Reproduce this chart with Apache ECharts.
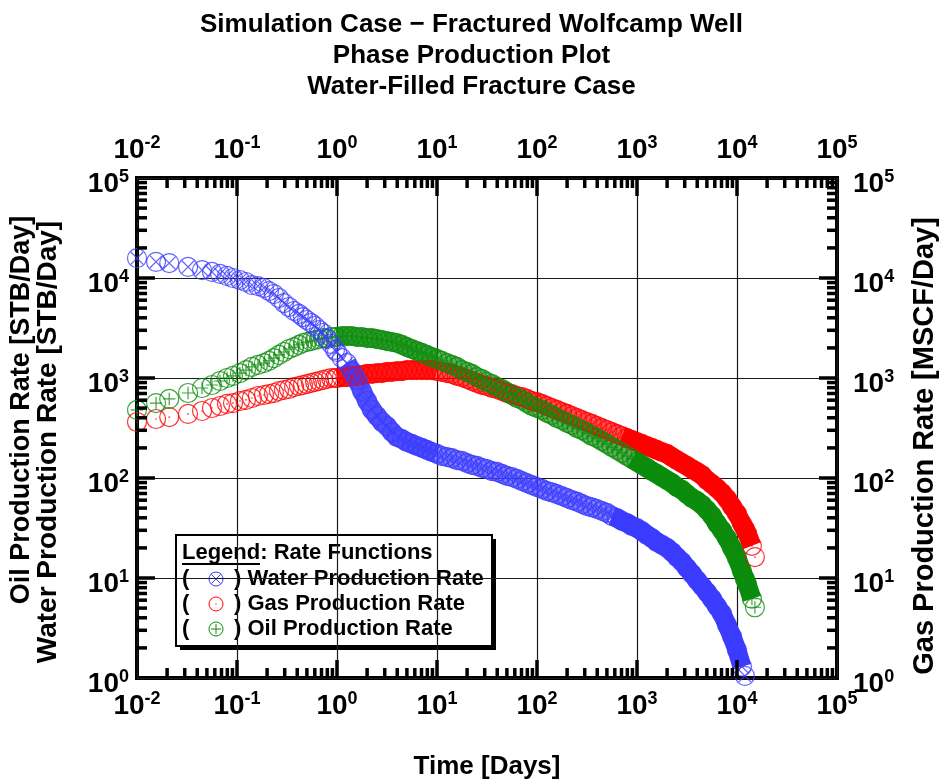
<!DOCTYPE html>
<html>
<head>
<meta charset="utf-8">
<title>Phase Production Plot</title>
<script src="https://cdn.jsdelivr.net/npm/echarts@6/dist/echarts.min.js"></script>
<style>
  html, body { margin: 0; padding: 0; background: #fff; }
  #chart { width: 943px; height: 782px; }
</style>
</head>
<body>
<div id="chart"></div>
<script>
// ---- Simulation output: time [days] and phase rates ----
const days = [
  0.01, 0.0155, 0.021, 0.0324, 0.0447, 0.0562, 0.0676, 0.0794, 0.0912, 0.107,
  0.123, 0.141, 0.162, 0.186, 0.209, 0.234, 0.263, 0.295, 0.331, 0.372,
  0.417, 0.457, 0.501, 0.55, 0.603, 0.661, 0.724, 0.794, 0.871, 0.955,
  1, 1.12, 1.26, 1.41, 1.58, 1.78, 2.0, 2.24, 2.51, 2.82, 3.16, 3.55, 3.98, 4.47, 5.01, 5.62, 6.31, 7.08, 7.94, 8.91,
  10, 11.2, 12.6, 14.1, 15.8, 17.8, 20, 22.4, 25.1, 28.2, 31.6, 35.5, 39.8, 44.7, 50.1, 56.2, 63.1, 70.8, 79.4, 89.1,
  100, 112, 126, 141, 158, 178, 200, 224, 251, 282, 316, 355, 398, 447, 501, 562, 631, 708, 794, 891,
  1000, 1120, 1260, 1410, 1580, 1780, 2000, 2240, 2510, 2820, 3160, 3550, 3980, 4470, 5010, 5620, 6310, 7080, 7940, 8910,
  10000, 11200, 12000, 12600, 14100, 15100
];

// Water production rate [STB/Day]
const waterRate = [
  15800, 14500, 14100, 12900, 12000, 11500, 11000, 10500, 10000, 9550,
  9120, 8510, 8300, 7940, 7410, 6920, 6310, 5620, 5130, 4680,
  4370, 4070, 3800, 3550, 3310, 3020, 2820, 2450, 2190, 1910,
  1820, 1580, 1410, 1170, 955, 741, 589, 479, 417, 363, 331, 288, 257, 245, 229, 219, 209, 200, 191, 182,
  174, 166, 162, 158, 151, 148, 141, 135, 132, 126, 123, 117, 115, 110, 105, 102, 98, 93, 89, 85,
  81, 78, 74, 72, 69, 66, 63, 60, 58, 55, 52.5, 51, 49, 46.8, 44.7, 41.7, 39.8, 37.2, 35.5, 33.1,
  31.6, 29.5, 26.9, 25.1, 22.9, 21.4, 20.0, 18.2, 16.2, 14.5, 12.6, 11.0, 9.5, 8.3, 7.2, 6.2, 5.2, 4.4, 3.4, 2.6,
  1.9, 1.3, 1.05, null, null, null
];

// Gas production rate [MSCF/Day]
const gasRate = [
  363, 389, 407, 437, 468, 501, 525, 550, 562, 589,
  603, 631, 661, 676, 692, 708, 741, 759, 776, 813,
  832, 851, 871, 891, 912, 933, 955, 977, 1000, 1000,
  1000, 1020, 1020, 1050, 1050, 1070, 1100, 1100, 1120, 1120, 1150, 1150, 1170, 1170, 1200, 1200, 1200, 1200, 1200, 1200,
  1170, 1150, 1120, 1100, 1050, 1020, 977, 933, 891, 851, 832, 794, 776, 741, 708, 692, 661, 646, 617, 589,
  575, 550, 525, 501, 479, 457, 437, 417, 398, 380, 363, 347, 331, 316, 302, 288, 275, 263, 251, 240,
  229, 219, 209, 200, 191, 182, 174, 162, 151, 141, 132, 123, 115, 107, 95, 87, 79, 71, 62, 52,
  44, 35, 31, 28, 21, 16.2
];

// Oil production rate [STB/Day]
const oilRate = [
  479, 562, 617, 708, 794, 851, 933, 1000, 1050, 1120,
  1200, 1290, 1350, 1410, 1480, 1580, 1700, 1820, 1950, 2040,
  2140, 2240, 2290, 2340, 2400, 2450, 2510, 2510, 2570, 2570,
  2570, 2630, 2630, 2630, 2570, 2570, 2510, 2510, 2450, 2400, 2340, 2290, 2240, 2140, 2040, 1950, 1860, 1780, 1700, 1620,
  1550, 1480, 1410, 1350, 1290, 1200, 1150, 1100, 1020, 977, 912, 871, 813, 776, 724, 676, 631, 603, 562, 525,
  501, 479, 447, 427, 398, 380, 355, 339, 316, 302, 282, 263, 251, 234, 219, 204, 191, 178, 166, 155,
  145, 135, 126, 117, 110, 102, 95, 89, 81, 76, 69, 63, 59, 54, 48, 42, 35, 30, 25, 20,
  15.8, 11.7, 9.8, 8.7, 6.2, 5.1
];

// Decade exponents used for the tick labels
const xExponents = ['-2', '-1', '0', '1', '2', '3', '4', '5'];
const yExponents = ['0', '1', '2', '3', '4', '5'];

// ---- Styling ----
const FONT = '"Liberation Sans", Arial, Helvetica, sans-serif';
const X_MIN = 0.01, X_MAX = 100000, Y_MIN = 1, Y_MAX = 100000;
const COLORS = { water: '#3c3cff', gas: '#ff0000', oil: '#0c8c0c' };
const MARK = 19;

const RING = 'M0,-10A10,10,0,1,1,0,10A10,10,0,1,1,0,-10Z';
const SYMBOLS = {
  water: 'path://' + RING + 'M-6.5,-6.5L6.5,6.5M6.5,-6.5L-6.5,6.5',
  gas: 'path://' + RING + 'M-1,0L1,0',
  oil: 'path://' + RING + 'M-6.5,0L6.5,0M0,-6.5L0,6.5'
};

function pairs(rates) {
  const out = [];
  rates.forEach((r, i) => { if (r != null) out.push([days[i], r]); });
  return out;
}
function between(rates, t0, t1) {
  return pairs(rates).filter(p => p[0] >= t0 && p[0] <= t1);
}

// Overlapping markers merge into a band: lighter where steps are sparse, solid late in time
function bandSeries(rates, color, ranges) {
  return ranges.map(([t0, t1, op]) => ({
    type: 'line',
    data: between(rates, t0, t1),
    showSymbol: false,
    silent: true,
    animation: false,
    z: 2,
    lineStyle: { color: color, width: MARK, opacity: op, cap: 'butt', join: 'round' }
  }));
}
function markerSeries(name, rates, key) {
  return {
    type: 'scatter',
    name: name,
    data: pairs(rates),
    symbol: SYMBOLS[key],
    symbolSize: MARK,
    symbolKeepAspect: true,
    silent: true,
    animation: false,
    z: 3,
    itemStyle: { color: 'rgba(0,0,0,0)', borderColor: COLORS[key], borderWidth: 1.2 }
  };
}

// Minor (2..9) and major (decade) tick values
function logTicks(lo, hi) {
  const t = [];
  for (let k = lo; k < hi; k++) {
    for (let m = 1; m <= 9; m++) t.push([m * Math.pow(10, k), m === 1 ? 1 : 0]);
  }
  return t;
}
const xTicks = logTicks(-2, 5).filter(t => t[0] > X_MIN * 1.01);
const yTicks = logTicks(0, 5).filter(t => t[0] > Y_MIN * 1.01);

const TICK_W = 3.5, MINOR_LEN = 10, MAJOR_LEN = 18;

const xTickSeries = {
  type: 'custom',
  silent: true,
  animation: false,
  z: 5,
  data: xTicks.map(t => [t[0], Y_MIN, t[1]]),
  encode: { x: 0, y: 1 },
  renderItem(params, api) {
    const v = api.value(0);
    const len = api.value(2) ? MAJOR_LEN : MINOR_LEN;
    const b = api.coord([v, Y_MIN]);
    const t = api.coord([v, Y_MAX]);
    return {
      type: 'group',
      children: [
        { type: 'rect', shape: { x: b[0] - TICK_W / 2, y: b[1] - len, width: TICK_W, height: len }, style: { fill: '#000' } },
        { type: 'rect', shape: { x: t[0] - TICK_W / 2, y: t[1], width: TICK_W, height: len }, style: { fill: '#000' } }
      ]
    };
  }
};
const yTickSeries = {
  type: 'custom',
  silent: true,
  animation: false,
  z: 5,
  data: yTicks.map(t => [X_MIN, t[0], t[1]]),
  encode: { x: 0, y: 1 },
  renderItem(params, api) {
    const v = api.value(1);
    const len = api.value(2) ? MAJOR_LEN : MINOR_LEN;
    const l = api.coord([X_MIN, v]);
    const r = api.coord([X_MAX, v]);
    return {
      type: 'group',
      children: [
        { type: 'rect', shape: { x: l[0], y: l[1] - TICK_W / 2, width: len, height: TICK_W }, style: { fill: '#000' } },
        { type: 'rect', shape: { x: r[0] - len, y: r[1] - TICK_W / 2, width: len, height: TICK_W }, style: { fill: '#000' } }
      ]
    };
  }
};

function powerLabel(exps, lo) {
  return function (v) {
    const e = Math.round(Math.log10(v));
    return '{b|10}{s|' + exps[e - lo] + '}';
  };
}
const labelRich = {
  b: { fontFamily: FONT, fontWeight: 'bold', fontSize: 28, color: '#000', lineHeight: 32 },
  s: { fontFamily: FONT, fontWeight: 'bold', fontSize: 18, color: '#000', verticalAlign: 'top', lineHeight: 18 }
};
const axisTitle = { fontFamily: FONT, fontWeight: 'bold', fontSize: 26, color: '#000' };

function logAxis(base) {
  return Object.assign({
    type: 'log',
    logBase: 10,
    axisLine: { show: false },
    axisTick: { show: false },
    minorTick: { show: false },
    splitLine: { show: false }
  }, base);
}

// Vertical axis titles (read bottom to top)
function sideTitle(text, x, y, size) {
  return {
    type: 'text', x: x, y: y, rotation: Math.PI / 2, z: 100,
    style: { text: text, font: 'bold ' + size + 'px ' + FONT, fill: '#000', align: 'center', verticalAlign: 'middle' }
  };
}

const LEG_FONT = 'bold 22px ' + FONT;

const option = {
  backgroundColor: '#fff',
  animation: false,
  title: {
    text: 'Simulation Case \u2212 Fractured Wolfcamp Well\nPhase Production Plot\nWater-Filled Fracture Case',
    left: 'center',
    top: 4,
    textStyle: { fontFamily: FONT, fontWeight: 'bold', fontSize: 26, lineHeight: 31, color: '#000' }
  },
  grid: {
    left: 137, right: 106, top: 178, bottom: 104,
    outerBoundsMode: 'none',
    containLabel: false,
    show: true, borderColor: '#000', borderWidth: 4, backgroundColor: '#fff'
  },
  xAxis: [
    logAxis({
      min: X_MIN, max: X_MAX, position: 'bottom', splitNumber: 7,
      splitLine: { show: true, lineStyle: { color: '#1a1a1a', width: 1.2 } },
      axisLabel: { formatter: powerLabel(xExponents, -2), rich: labelRich, margin: 12, showMinLabel: true, showMaxLabel: true },
      name: 'Time [Days]', nameLocation: 'middle', nameGap: 76, nameTextStyle: axisTitle
    }),
    logAxis({
      min: X_MIN, max: X_MAX, position: 'top', splitNumber: 7,
      axisLabel: { formatter: powerLabel(xExponents, -2), rich: labelRich, margin: 12, showMinLabel: true, showMaxLabel: true }
    })
  ],
  yAxis: [
    logAxis({
      min: Y_MIN, max: Y_MAX, position: 'left', splitNumber: 5,
      splitLine: { show: true, lineStyle: { color: '#1a1a1a', width: 1.2 } },
      axisLabel: { formatter: powerLabel(yExponents, 0), rich: labelRich, margin: 8, padding: [12, 0, 0, 0] }
    }),
    logAxis({
      min: Y_MIN, max: Y_MAX, position: 'right', splitNumber: 5,
      axisLabel: { formatter: powerLabel(yExponents, 0), rich: labelRich, margin: 16, padding: [12, 0, 0, 0] }
    })
  ],
  series: [
    ...bandSeries(gasRate, COLORS.gas, [[1, 10, 0.9], [10, 800, 0.7], [700, 14100, 1]]),
    markerSeries('Gas Production Rate', gasRate, 'gas'),
    ...bandSeries(oilRate, COLORS.oil, [[1, 10, 0.85], [10, 1000, 0.68], [890, 14100, 1]]),
    markerSeries('Oil Production Rate', oilRate, 'oil'),
    ...bandSeries(waterRate, COLORS.water, [[1.2, 10, 0.9], [10, 630, 0.68], [560, 11200, 1]]),
    markerSeries('Water Production Rate', waterRate, 'water'),
    xTickSeries,
    yTickSeries
  ],
  graphic: [
    sideTitle('Oil Production Rate [STB/Day]', 22, 410, 27),
    sideTitle('Water Production Rate [STB/Day]', 48, 442, 28),
    sideTitle('Gas Production Rate [MSCF/Day]', 925, 446, 29),
    {
      type: 'group',
      left: 175,
      top: 534,
      z: 100,
      children: [
        { type: 'rect', shape: { x: 4, y: 4, width: 316, height: 111 }, style: { fill: '#000' } },
        { type: 'rect', shape: { x: 0, y: 0, width: 316, height: 111 }, style: { fill: '#fff', stroke: '#000', lineWidth: 2 } },
        { type: 'text', x: 6, y: 18, style: { text: 'Legend: Rate Functions', font: LEG_FONT, fill: '#000', verticalAlign: 'middle' } },
        { type: 'line', shape: { x1: 6, y1: 29, x2: 84, y2: 29 }, style: { stroke: '#000', lineWidth: 2 } },
        { type: 'text', x: 6, y: 44, style: { text: '(', font: LEG_FONT, fill: '#000', verticalAlign: 'middle' } },
        { type: 'circle', shape: { cx: 40, cy: 44, r: 7 }, style: { fill: 'none', stroke: COLORS.water, lineWidth: 1 } },
        { type: 'line', shape: { x1: 35.5, y1: 39.5, x2: 44.5, y2: 48.5 }, style: { stroke: COLORS.water, lineWidth: 1 } },
        { type: 'line', shape: { x1: 44.5, y1: 39.5, x2: 35.5, y2: 48.5 }, style: { stroke: COLORS.water, lineWidth: 1 } },
        { type: 'text', x: 58, y: 44, style: { text: ') Water Production Rate', font: LEG_FONT, fill: '#000', verticalAlign: 'middle' } },
        { type: 'text', x: 6, y: 69, style: { text: '(', font: LEG_FONT, fill: '#000', verticalAlign: 'middle' } },
        { type: 'circle', shape: { cx: 40, cy: 69, r: 7 }, style: { fill: 'none', stroke: COLORS.gas, lineWidth: 1 } },
        { type: 'line', shape: { x1: 39.3, y1: 69, x2: 40.7, y2: 69 }, style: { stroke: COLORS.gas, lineWidth: 1 } },
        { type: 'text', x: 58, y: 69, style: { text: ') Gas Production Rate', font: LEG_FONT, fill: '#000', verticalAlign: 'middle' } },
        { type: 'text', x: 6, y: 94, style: { text: '(', font: LEG_FONT, fill: '#000', verticalAlign: 'middle' } },
        { type: 'circle', shape: { cx: 40, cy: 94, r: 7 }, style: { fill: 'none', stroke: COLORS.oil, lineWidth: 1 } },
        { type: 'line', shape: { x1: 35, y1: 94, x2: 45, y2: 94 }, style: { stroke: COLORS.oil, lineWidth: 1 } },
        { type: 'line', shape: { x1: 40, y1: 89, x2: 40, y2: 99 }, style: { stroke: COLORS.oil, lineWidth: 1 } },
        { type: 'text', x: 58, y: 94, style: { text: ') Oil Production Rate', font: LEG_FONT, fill: '#000', verticalAlign: 'middle' } }
      ]
    }
  ]
};

const chart = echarts.init(document.getElementById('chart'), null, { renderer: 'canvas' });
chart.setOption(option);
</script>
</body>
</html>
